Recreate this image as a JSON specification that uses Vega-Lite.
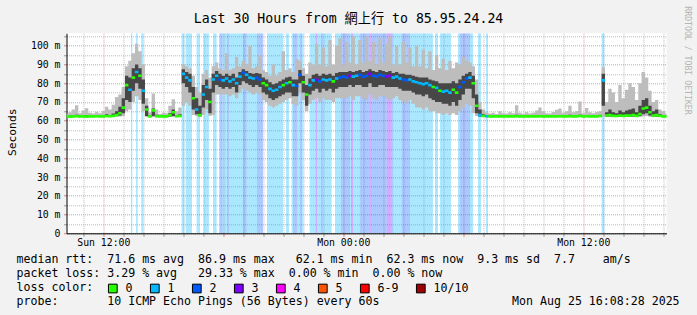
{
"$schema": "https://vega.github.io/schema/vega-lite/v6.json",
"width": 600, "height": 200,
"autosize": {"type": "none"},
"padding": {"left": 66.5, "top": 33.3, "right": 30.5, "bottom": 81.7},
"background": "#f2f2f2",
"title": {"text": "Last 30 Hours from 網上行 to 85.95.24.24", "font": "DejaVu Sans Mono, Noto Sans CJK TC", "fontSize": 13.2, "fontWeight": "normal", "color": "#000000", "anchor": "middle", "frame": "group", "dx": -18, "offset": -30.3, "baseline": "alphabetic"},
"datasets": {
"series": [
{"t":"2025-08-24T10:10","med":62.3,"lo":61.9,"q1":62.1,"q3":62.7,"hi":63.5,"loss":"0"},
{"t":"2025-08-24T10:20","med":62.2,"lo":61.9,"q1":62.0,"q3":62.6,"hi":64.5,"loss":"0"},
{"t":"2025-08-24T10:30","med":62.3,"lo":61.9,"q1":62.1,"q3":62.8,"hi":66.0,"loss":"0"},
{"t":"2025-08-24T10:40","med":62.4,"lo":62.0,"q1":62.2,"q3":63.2,"hi":68.3,"loss":"0"},
{"t":"2025-08-24T10:50","med":62.3,"lo":61.9,"q1":62.1,"q3":62.7,"hi":64.0,"loss":"0"},
{"t":"2025-08-24T11:00","med":62.3,"lo":61.9,"q1":62.1,"q3":62.8,"hi":65.5,"loss":"0"},
{"t":"2025-08-24T11:10","med":62.2,"lo":61.8,"q1":62.0,"q3":62.9,"hi":66.6,"loss":"0"},
{"t":"2025-08-24T11:20","med":62.3,"lo":61.9,"q1":62.1,"q3":62.7,"hi":64.2,"loss":"0"},
{"t":"2025-08-24T11:30","med":62.3,"lo":61.9,"q1":62.1,"q3":62.8,"hi":63.8,"loss":"0"},
{"t":"2025-08-24T11:40","med":62.4,"lo":62.0,"q1":62.2,"q3":63.0,"hi":64.8,"loss":"0"},
{"t":"2025-08-24T11:50","med":62.3,"lo":61.9,"q1":62.1,"q3":62.7,"hi":64.0,"loss":"0"},
{"t":"2025-08-24T12:00","med":62.3,"lo":61.9,"q1":62.1,"q3":62.9,"hi":65.2,"loss":"0"},
{"t":"2025-08-24T12:10","med":62.5,"lo":62.0,"q1":62.2,"q3":63.5,"hi":67.5,"loss":"0"},
{"t":"2025-08-24T12:20","med":62.4,"lo":61.9,"q1":62.1,"q3":63.0,"hi":66.0,"loss":"0"},
{"t":"2025-08-24T12:30","med":62.6,"lo":62.0,"q1":62.3,"q3":63.8,"hi":68.5,"loss":"0"},
{"t":"2025-08-24T12:40","med":63.0,"lo":62.1,"q1":62.5,"q3":65.0,"hi":72.7,"loss":"0"},
{"t":"2025-08-24T12:50","med":64.0,"lo":62.2,"q1":62.8,"q3":67.5,"hi":74.0,"loss":"0"},
{"t":"2025-08-24T13:00","med":67.0,"lo":62.5,"q1":64.0,"q3":72.0,"hi":78.0,"loss":"0"},
{"t":"2025-08-24T13:10","med":79.0,"lo":65.0,"q1":71.0,"q3":84.0,"hi":89.0,"loss":"0"},
{"t":"2025-08-24T13:20","med":76.5,"lo":66.0,"q1":70.0,"q3":83.0,"hi":92.0,"loss":"1"},
{"t":"2025-08-24T13:30","med":83.0,"lo":70.0,"q1":76.0,"q3":88.0,"hi":96.0,"loss":"0"},
{"t":"2025-08-24T13:40","med":86.0,"lo":73.0,"q1":80.0,"q3":90.0,"hi":101.0,"loss":"1"},
{"t":"2025-08-24T13:50","med":84.0,"lo":71.0,"q1":77.0,"q3":88.0,"hi":97.0,"loss":"0"},
{"t":"2025-08-24T14:00","med":76.0,"lo":65.0,"q1":69.0,"q3":82.0,"hi":90.0,"loss":"1"},
{"t":"2025-08-24T14:10","med":66.0,"lo":62.0,"q1":62.5,"q3":68.0,"hi":72.0,"loss":"0"},
{"t":"2025-08-24T14:20","med":62.3,"lo":61.9,"q1":62.1,"q3":62.8,"hi":64.5,"loss":"0"},
{"t":"2025-08-24T14:30","med":65.5,"lo":62.0,"q1":62.5,"q3":66.5,"hi":74.5,"loss":"0"},
{"t":"2025-08-24T14:40","med":62.4,"lo":61.9,"q1":62.1,"q3":63.2,"hi":66.0,"loss":"0"},
{"t":"2025-08-24T14:50","med":62.3,"lo":61.9,"q1":62.1,"q3":62.7,"hi":63.6,"loss":"0"},
{"t":"2025-08-24T15:00","med":62.3,"lo":61.9,"q1":62.1,"q3":62.8,"hi":64.2,"loss":"0"},
{"t":"2025-08-24T15:10","med":62.3,"lo":61.9,"q1":62.1,"q3":62.8,"hi":64.0,"loss":"0"},
{"t":"2025-08-24T15:20","med":63.0,"lo":62.0,"q1":62.2,"q3":64.0,"hi":68.0,"loss":"0"},
{"t":"2025-08-24T15:30","med":64.5,"lo":62.0,"q1":62.5,"q3":66.0,"hi":71.5,"loss":"0"},
{"t":"2025-08-24T15:40","med":62.4,"lo":61.9,"q1":62.1,"q3":63.0,"hi":65.0,"loss":"0"},
{"t":"2025-08-24T15:50","med":62.5,"lo":62.0,"q1":62.2,"q3":63.5,"hi":67.0,"loss":"0"},
{"t":"2025-08-24T16:00","med":85.0,"lo":68.0,"q1":80.0,"q3":87.5,"hi":90.0,"loss":"1"},
{"t":"2025-08-24T16:10","med":83.0,"lo":70.0,"q1":78.0,"q3":86.0,"hi":89.0,"loss":"1"},
{"t":"2025-08-24T16:20","med":81.5,"lo":68.0,"q1":75.0,"q3":85.0,"hi":88.0,"loss":"1"},
{"t":"2025-08-24T16:30","med":72.0,"lo":63.0,"q1":66.0,"q3":78.0,"hi":84.0,"loss":"0"},
{"t":"2025-08-24T16:40","med":66.0,"lo":62.5,"q1":63.5,"q3":72.0,"hi":78.0,"loss":"1"},
{"t":"2025-08-24T16:50","med":63.0,"lo":62.0,"q1":62.4,"q3":68.0,"hi":75.0,"loss":"0"},
{"t":"2025-08-24T17:00","med":74.0,"lo":63.0,"q1":67.0,"q3":79.0,"hi":85.0,"loss":"1"},
{"t":"2025-08-24T17:10","med":78.0,"lo":66.0,"q1":71.0,"q3":82.0,"hi":87.0,"loss":"1"},
{"t":"2025-08-24T17:20","med":70.0,"lo":62.5,"q1":64.0,"q3":77.0,"hi":83.0,"loss":"0"},
{"t":"2025-08-24T17:30","med":82.0,"lo":63.0,"q1":75.0,"q3":85.0,"hi":89.0,"loss":"1"},
{"t":"2025-08-24T17:40","med":84.0,"lo":74.0,"q1":79.0,"q3":86.5,"hi":91.0,"loss":"1"},
{"t":"2025-08-24T17:50","med":82.0,"lo":74.0,"q1":78.0,"q3":85.0,"hi":88.0,"loss":"2"},
{"t":"2025-08-24T18:00","med":81.5,"lo":74.0,"q1":77.0,"q3":84.0,"hi":87.0,"loss":"1"},
{"t":"2025-08-24T18:10","med":82.5,"lo":74.0,"q1":78.0,"q3":85.0,"hi":96.0,"loss":"1"},
{"t":"2025-08-24T18:20","med":81.0,"lo":73.0,"q1":77.0,"q3":84.0,"hi":87.0,"loss":"1"},
{"t":"2025-08-24T18:30","med":82.0,"lo":74.0,"q1":78.0,"q3":85.0,"hi":88.0,"loss":"1"},
{"t":"2025-08-24T18:40","med":80.0,"lo":72.0,"q1":75.0,"q3":83.0,"hi":94.0,"loss":"1"},
{"t":"2025-08-24T18:50","med":83.5,"lo":75.0,"q1":79.0,"q3":86.0,"hi":89.0,"loss":"1"},
{"t":"2025-08-24T19:00","med":85.5,"lo":77.0,"q1":81.0,"q3":87.5,"hi":92.0,"loss":"2"},
{"t":"2025-08-24T19:10","med":84.5,"lo":76.0,"q1":80.0,"q3":86.5,"hi":90.0,"loss":"1"},
{"t":"2025-08-24T19:20","med":83.0,"lo":75.0,"q1":79.0,"q3":85.5,"hi":100.0,"loss":"1"},
{"t":"2025-08-24T19:30","med":82.5,"lo":74.0,"q1":78.0,"q3":85.0,"hi":88.0,"loss":"1"},
{"t":"2025-08-24T19:40","med":83.0,"lo":75.0,"q1":79.0,"q3":85.5,"hi":89.0,"loss":"2"},
{"t":"2025-08-24T19:50","med":82.0,"lo":74.0,"q1":78.0,"q3":85.0,"hi":95.0,"loss":"2"},
{"t":"2025-08-24T20:00","med":80.0,"lo":71.0,"q1":75.0,"q3":83.0,"hi":87.0,"loss":"0"},
{"t":"2025-08-24T20:10","med":79.0,"lo":70.0,"q1":74.0,"q3":82.0,"hi":86.0,"loss":"0"},
{"t":"2025-08-24T20:20","med":77.0,"lo":68.0,"q1":72.0,"q3":80.5,"hi":84.0,"loss":"1"},
{"t":"2025-08-24T20:30","med":76.0,"lo":67.0,"q1":71.0,"q3":79.5,"hi":90.0,"loss":"1"},
{"t":"2025-08-24T20:40","med":76.5,"lo":68.0,"q1":72.0,"q3":80.0,"hi":84.0,"loss":"1"},
{"t":"2025-08-24T20:50","med":78.0,"lo":69.0,"q1":73.0,"q3":81.0,"hi":86.0,"loss":"1"},
{"t":"2025-08-24T21:00","med":79.0,"lo":70.0,"q1":74.0,"q3":82.0,"hi":97.0,"loss":"0"},
{"t":"2025-08-24T21:10","med":80.0,"lo":71.0,"q1":75.0,"q3":83.0,"hi":87.0,"loss":"1"},
{"t":"2025-08-24T21:20","med":80.5,"lo":72.0,"q1":75.0,"q3":83.5,"hi":88.0,"loss":"0"},
{"t":"2025-08-24T21:30","med":79.0,"lo":69.0,"q1":73.0,"q3":82.0,"hi":86.0,"loss":"1"},
{"t":"2025-08-24T21:40","med":78.5,"lo":68.0,"q1":73.0,"q3":82.0,"hi":93.0,"loss":"2"},
{"t":"2025-08-24T21:50","med":84.5,"lo":75.0,"q1":80.0,"q3":87.0,"hi":92.0,"loss":"2"},
{"t":"2025-08-24T22:00","med":80.5,"lo":71.0,"q1":75.0,"q3":84.0,"hi":88.0,"loss":"0"},
{"t":"2025-08-24T22:10","med":74.0,"lo":65.0,"q1":68.0,"q3":79.0,"hi":85.0,"loss":"0"},
{"t":"2025-08-24T22:20","med":79.0,"lo":69.0,"q1":74.0,"q3":82.5,"hi":91.0,"loss":"1"},
{"t":"2025-08-24T22:30","med":81.5,"lo":71.0,"q1":76.0,"q3":84.5,"hi":90.0,"loss":"1"},
{"t":"2025-08-24T22:40","med":82.0,"lo":72.0,"q1":77.0,"q3":85.0,"hi":101.0,"loss":"3"},
{"t":"2025-08-24T22:50","med":81.0,"lo":70.0,"q1":75.0,"q3":84.0,"hi":90.0,"loss":"2"},
{"t":"2025-08-24T23:00","med":82.0,"lo":72.0,"q1":77.0,"q3":85.0,"hi":99.0,"loss":"1"},
{"t":"2025-08-24T23:10","med":81.5,"lo":71.0,"q1":76.0,"q3":84.5,"hi":89.0,"loss":"1"},
{"t":"2025-08-24T23:20","med":82.0,"lo":71.0,"q1":77.0,"q3":85.0,"hi":103.0,"loss":"1"},
{"t":"2025-08-24T23:30","med":81.0,"lo":70.0,"q1":75.0,"q3":84.0,"hi":90.0,"loss":"0"},
{"t":"2025-08-24T23:40","med":82.5,"lo":72.0,"q1":77.0,"q3":85.5,"hi":100.0,"loss":"1"},
{"t":"2025-08-24T23:50","med":83.0,"lo":72.0,"q1":78.0,"q3":86.0,"hi":104.0,"loss":"2"},
{"t":"2025-08-25T00:00","med":83.5,"lo":72.0,"q1":78.0,"q3":86.0,"hi":90.0,"loss":"2"},
{"t":"2025-08-25T00:10","med":83.0,"lo":72.0,"q1":78.0,"q3":86.0,"hi":102.0,"loss":"2"},
{"t":"2025-08-25T00:20","med":84.0,"lo":73.0,"q1":79.0,"q3":86.5,"hi":91.0,"loss":"3"},
{"t":"2025-08-25T00:30","med":83.5,"lo":71.0,"q1":78.0,"q3":86.0,"hi":105.0,"loss":"1"},
{"t":"2025-08-25T00:40","med":84.0,"lo":73.0,"q1":79.0,"q3":86.5,"hi":90.0,"loss":"1"},
{"t":"2025-08-25T00:50","med":84.5,"lo":73.0,"q1":79.0,"q3":87.0,"hi":103.0,"loss":"2"},
{"t":"2025-08-25T01:00","med":83.5,"lo":72.0,"q1":78.0,"q3":86.0,"hi":91.0,"loss":"2"},
{"t":"2025-08-25T01:10","med":84.0,"lo":71.0,"q1":78.0,"q3":86.5,"hi":105.0,"loss":"2"},
{"t":"2025-08-25T01:20","med":85.0,"lo":74.0,"q1":80.0,"q3":87.5,"hi":92.0,"loss":"3"},
{"t":"2025-08-25T01:30","med":84.0,"lo":72.0,"q1":78.0,"q3":86.5,"hi":102.0,"loss":"2"},
{"t":"2025-08-25T01:40","med":83.5,"lo":71.0,"q1":78.0,"q3":86.0,"hi":90.0,"loss":"2"},
{"t":"2025-08-25T01:50","med":84.5,"lo":73.0,"q1":79.0,"q3":87.0,"hi":104.0,"loss":"2"},
{"t":"2025-08-25T02:00","med":84.0,"lo":73.0,"q1":79.0,"q3":86.5,"hi":91.0,"loss":"2"},
{"t":"2025-08-25T02:10","med":83.5,"lo":72.0,"q1":78.0,"q3":86.0,"hi":101.0,"loss":"3"},
{"t":"2025-08-25T02:20","med":84.0,"lo":71.0,"q1":78.0,"q3":86.5,"hi":105.0,"loss":"3"},
{"t":"2025-08-25T02:30","med":83.0,"lo":72.0,"q1":78.0,"q3":85.5,"hi":90.0,"loss":"1"},
{"t":"2025-08-25T02:40","med":83.5,"lo":73.0,"q1":78.0,"q3":86.0,"hi":100.0,"loss":"1"},
{"t":"2025-08-25T02:50","med":82.5,"lo":71.0,"q1":77.0,"q3":85.0,"hi":90.0,"loss":"1"},
{"t":"2025-08-25T03:00","med":82.0,"lo":70.0,"q1":76.0,"q3":85.0,"hi":102.0,"loss":"2"},
{"t":"2025-08-25T03:10","med":81.5,"lo":69.0,"q1":76.0,"q3":84.5,"hi":91.0,"loss":"2"},
{"t":"2025-08-25T03:20","med":82.0,"lo":71.0,"q1":76.0,"q3":84.5,"hi":99.0,"loss":"1"},
{"t":"2025-08-25T03:30","med":81.0,"lo":69.0,"q1":75.0,"q3":84.0,"hi":89.0,"loss":"1"},
{"t":"2025-08-25T03:40","med":80.5,"lo":67.0,"q1":74.0,"q3":83.5,"hi":100.0,"loss":"1"},
{"t":"2025-08-25T03:50","med":80.0,"lo":67.0,"q1":74.0,"q3":83.0,"hi":89.0,"loss":"1"},
{"t":"2025-08-25T04:00","med":79.5,"lo":66.0,"q1":73.0,"q3":83.0,"hi":98.0,"loss":"1"},
{"t":"2025-08-25T04:10","med":80.0,"lo":67.0,"q1":74.0,"q3":83.0,"hi":88.0,"loss":"1"},
{"t":"2025-08-25T04:20","med":79.0,"lo":65.0,"q1":72.0,"q3":82.0,"hi":97.0,"loss":"1"},
{"t":"2025-08-25T04:30","med":78.0,"lo":65.0,"q1":71.0,"q3":81.5,"hi":87.0,"loss":"0"},
{"t":"2025-08-25T04:40","med":77.5,"lo":64.0,"q1":70.0,"q3":81.0,"hi":95.0,"loss":"1"},
{"t":"2025-08-25T04:50","med":76.0,"lo":64.0,"q1":70.0,"q3":80.0,"hi":88.0,"loss":"0"},
{"t":"2025-08-25T05:00","med":75.5,"lo":63.0,"q1":69.0,"q3":80.0,"hi":93.0,"loss":"1"},
{"t":"2025-08-25T05:10","med":76.0,"lo":64.0,"q1":69.0,"q3":80.0,"hi":87.0,"loss":"1"},
{"t":"2025-08-25T05:20","med":75.0,"lo":63.0,"q1":68.0,"q3":80.0,"hi":92.0,"loss":"1"},
{"t":"2025-08-25T05:30","med":76.5,"lo":64.0,"q1":70.0,"q3":81.0,"hi":88.0,"loss":"0"},
{"t":"2025-08-25T05:40","med":75.0,"lo":63.0,"q1":68.0,"q3":80.0,"hi":91.0,"loss":"0"},
{"t":"2025-08-25T05:50","med":78.0,"lo":65.0,"q1":71.0,"q3":82.0,"hi":90.0,"loss":"2"},
{"t":"2025-08-25T06:00","med":80.5,"lo":67.0,"q1":74.0,"q3":84.0,"hi":94.0,"loss":"2"},
{"t":"2025-08-25T06:10","med":82.5,"lo":69.0,"q1":77.0,"q3":85.0,"hi":92.0,"loss":"2"},
{"t":"2025-08-25T06:20","med":83.0,"lo":68.0,"q1":77.0,"q3":86.0,"hi":91.0,"loss":"1"},
{"t":"2025-08-25T06:30","med":80.0,"lo":64.0,"q1":72.0,"q3":84.0,"hi":89.0,"loss":"0"},
{"t":"2025-08-25T06:40","med":68.0,"lo":62.5,"q1":64.0,"q3":74.0,"hi":82.0,"loss":"0"},
{"t":"2025-08-25T06:50","med":63.0,"lo":62.0,"q1":62.3,"q3":66.0,"hi":70.0,"loss":"1"},
{"t":"2025-08-25T07:00","med":62.5,"lo":62.0,"q1":62.2,"q3":63.5,"hi":66.0,"loss":"0"},
{"t":"2025-08-25T07:10","med":62.4,"lo":61.9,"q1":62.1,"q3":63.0,"hi":64.5,"loss":"1"},
{"t":"2025-08-25T07:20","med":62.3,"lo":61.9,"q1":62.1,"q3":62.7,"hi":63.8,"loss":"0"},
{"t":"2025-08-25T07:30","med":62.3,"lo":61.9,"q1":62.1,"q3":62.7,"hi":64.2,"loss":"0"},
{"t":"2025-08-25T07:40","med":62.3,"lo":61.9,"q1":62.1,"q3":62.7,"hi":63.6,"loss":"0"},
{"t":"2025-08-25T07:50","med":62.3,"lo":61.9,"q1":62.1,"q3":62.8,"hi":65.0,"loss":"0"},
{"t":"2025-08-25T08:00","med":62.3,"lo":61.9,"q1":62.1,"q3":62.7,"hi":64.0,"loss":"0"},
{"t":"2025-08-25T08:10","med":62.3,"lo":61.9,"q1":62.1,"q3":62.7,"hi":63.8,"loss":"0"},
{"t":"2025-08-25T08:20","med":62.3,"lo":61.9,"q1":62.1,"q3":62.8,"hi":64.5,"loss":"0"},
{"t":"2025-08-25T08:30","med":62.3,"lo":61.9,"q1":62.1,"q3":62.7,"hi":64.0,"loss":"0"},
{"t":"2025-08-25T08:40","med":62.4,"lo":61.9,"q1":62.1,"q3":63.2,"hi":68.3,"loss":"0"},
{"t":"2025-08-25T08:50","med":62.3,"lo":61.9,"q1":62.1,"q3":62.7,"hi":64.2,"loss":"0"},
{"t":"2025-08-25T09:00","med":62.3,"lo":61.9,"q1":62.1,"q3":62.7,"hi":63.7,"loss":"0"},
{"t":"2025-08-25T09:10","med":62.3,"lo":61.9,"q1":62.1,"q3":62.8,"hi":64.5,"loss":"0"},
{"t":"2025-08-25T09:20","med":62.3,"lo":61.9,"q1":62.1,"q3":62.7,"hi":63.9,"loss":"0"},
{"t":"2025-08-25T09:30","med":62.3,"lo":61.9,"q1":62.1,"q3":62.7,"hi":64.3,"loss":"0"},
{"t":"2025-08-25T09:40","med":62.3,"lo":61.9,"q1":62.1,"q3":62.9,"hi":65.5,"loss":"0"},
{"t":"2025-08-25T09:50","med":62.4,"lo":61.9,"q1":62.1,"q3":63.0,"hi":67.0,"loss":"0"},
{"t":"2025-08-25T10:00","med":62.3,"lo":61.9,"q1":62.1,"q3":62.8,"hi":65.0,"loss":"0"},
{"t":"2025-08-25T10:10","med":62.3,"lo":61.9,"q1":62.1,"q3":62.7,"hi":64.0,"loss":"0"},
{"t":"2025-08-25T10:20","med":62.3,"lo":61.9,"q1":62.1,"q3":62.7,"hi":63.8,"loss":"0"},
{"t":"2025-08-25T10:30","med":62.3,"lo":61.9,"q1":62.1,"q3":62.8,"hi":64.6,"loss":"0"},
{"t":"2025-08-25T10:40","med":62.3,"lo":61.9,"q1":62.1,"q3":62.9,"hi":65.8,"loss":"0"},
{"t":"2025-08-25T10:50","med":62.4,"lo":61.9,"q1":62.1,"q3":63.0,"hi":66.5,"loss":"0"},
{"t":"2025-08-25T11:00","med":62.3,"lo":61.9,"q1":62.1,"q3":62.7,"hi":64.2,"loss":"0"},
{"t":"2025-08-25T11:10","med":62.3,"lo":61.9,"q1":62.1,"q3":62.8,"hi":65.0,"loss":"0"},
{"t":"2025-08-25T11:20","med":62.4,"lo":61.9,"q1":62.1,"q3":63.2,"hi":68.0,"loss":"0"},
{"t":"2025-08-25T11:30","med":62.3,"lo":61.9,"q1":62.1,"q3":62.8,"hi":64.5,"loss":"0"},
{"t":"2025-08-25T11:40","med":62.3,"lo":61.9,"q1":62.1,"q3":62.8,"hi":65.2,"loss":"0"},
{"t":"2025-08-25T11:50","med":62.5,"lo":62.0,"q1":62.2,"q3":63.2,"hi":70.2,"loss":"0"},
{"t":"2025-08-25T12:00","med":62.3,"lo":61.9,"q1":62.1,"q3":62.7,"hi":64.0,"loss":"0"},
{"t":"2025-08-25T12:10","med":62.4,"lo":61.9,"q1":62.1,"q3":63.0,"hi":66.8,"loss":"0"},
{"t":"2025-08-25T12:20","med":62.3,"lo":61.9,"q1":62.1,"q3":62.8,"hi":64.5,"loss":"0"},
{"t":"2025-08-25T12:30","med":62.3,"lo":61.9,"q1":62.1,"q3":62.7,"hi":64.0,"loss":"0"},
{"t":"2025-08-25T12:40","med":62.3,"lo":61.9,"q1":62.1,"q3":62.8,"hi":64.6,"loss":"0"},
{"t":"2025-08-25T12:50","med":62.5,"lo":61.9,"q1":62.1,"q3":63.0,"hi":65.0,"loss":"0"},
{"t":"2025-08-25T13:00","med":81.5,"lo":62.3,"q1":68.0,"q3":85.0,"hi":88.5,"loss":"1"},
{"t":"2025-08-25T13:10","med":62.8,"lo":62.0,"q1":62.2,"q3":64.5,"hi":70.0,"loss":"0"},
{"t":"2025-08-25T13:20","med":63.0,"lo":62.0,"q1":62.3,"q3":66.0,"hi":77.0,"loss":"0"},
{"t":"2025-08-25T13:30","med":62.6,"lo":62.0,"q1":62.2,"q3":64.5,"hi":75.0,"loss":"0"},
{"t":"2025-08-25T13:40","med":62.5,"lo":62.0,"q1":62.2,"q3":64.0,"hi":70.0,"loss":"0"},
{"t":"2025-08-25T13:50","med":62.8,"lo":62.0,"q1":62.3,"q3":65.5,"hi":79.0,"loss":"0"},
{"t":"2025-08-25T14:00","med":62.6,"lo":62.0,"q1":62.2,"q3":64.5,"hi":72.0,"loss":"0"},
{"t":"2025-08-25T14:10","med":62.7,"lo":62.0,"q1":62.2,"q3":65.5,"hi":76.5,"loss":"0"},
{"t":"2025-08-25T14:20","med":62.8,"lo":62.0,"q1":62.3,"q3":66.0,"hi":80.0,"loss":"0"},
{"t":"2025-08-25T14:30","med":63.0,"lo":62.0,"q1":62.3,"q3":66.5,"hi":78.0,"loss":"0"},
{"t":"2025-08-25T14:40","med":62.6,"lo":62.0,"q1":62.2,"q3":64.5,"hi":71.0,"loss":"0"},
{"t":"2025-08-25T14:50","med":63.5,"lo":62.0,"q1":62.5,"q3":68.0,"hi":80.0,"loss":"0"},
{"t":"2025-08-25T15:00","med":66.5,"lo":62.3,"q1":63.5,"q3":71.0,"hi":86.0,"loss":"0"},
{"t":"2025-08-25T15:10","med":67.0,"lo":62.5,"q1":64.0,"q3":72.0,"hi":83.0,"loss":"0"},
{"t":"2025-08-25T15:20","med":64.5,"lo":62.1,"q1":62.8,"q3":68.0,"hi":76.0,"loss":"0"},
{"t":"2025-08-25T15:30","med":62.8,"lo":62.0,"q1":62.3,"q3":65.0,"hi":70.0,"loss":"0"},
{"t":"2025-08-25T15:40","med":63.0,"lo":62.0,"q1":62.3,"q3":66.0,"hi":71.0,"loss":"0"},
{"t":"2025-08-25T15:50","med":62.5,"lo":62.0,"q1":62.2,"q3":63.5,"hi":66.0,"loss":"0"},
{"t":"2025-08-25T16:00","med":62.3,"lo":61.9,"q1":62.1,"q3":63.0,"hi":65.0,"loss":"0"},
{"t":"2025-08-25T16:10","med":62.3,"lo":61.9,"q1":62.1,"q3":62.8,"hi":64.0,"loss":"0"}
],
"lossbars": [
{"start":"2025-08-24T13:23","end":"2025-08-24T13:27","loss":"1"},
{"start":"2025-08-24T13:38","end":"2025-08-24T13:43","loss":"1"},
{"start":"2025-08-24T13:54","end":"2025-08-24T14:00","loss":"1"},
{"start":"2025-08-24T15:55","end":"2025-08-24T16:03","loss":"1"},
{"start":"2025-08-24T16:07","end":"2025-08-24T16:26","loss":"1"},
{"start":"2025-08-24T16:40","end":"2025-08-24T16:50","loss":"1"},
{"start":"2025-08-24T17:01","end":"2025-08-24T17:17","loss":"1"},
{"start":"2025-08-24T17:29","end":"2025-08-24T17:40","loss":"1"},
{"start":"2025-08-24T17:47","end":"2025-08-24T17:50","loss":"1"},
{"start":"2025-08-24T17:50","end":"2025-08-24T17:58","loss":"2"},
{"start":"2025-08-24T17:58","end":"2025-08-24T18:11","loss":"1"},
{"start":"2025-08-24T18:11","end":"2025-08-24T18:17","loss":"2"},
{"start":"2025-08-24T18:17","end":"2025-08-24T18:59","loss":"1"},
{"start":"2025-08-24T18:59","end":"2025-08-24T19:10","loss":"2"},
{"start":"2025-08-24T19:10","end":"2025-08-24T19:41","loss":"1"},
{"start":"2025-08-24T19:41","end":"2025-08-24T19:59","loss":"2"},
{"start":"2025-08-24T20:11","end":"2025-08-24T20:59","loss":"1"},
{"start":"2025-08-24T21:08","end":"2025-08-24T21:17","loss":"1"},
{"start":"2025-08-24T21:25","end":"2025-08-24T21:29","loss":"1"},
{"start":"2025-08-24T21:29","end":"2025-08-24T21:41","loss":"2"},
{"start":"2025-08-24T21:41","end":"2025-08-24T21:50","loss":"1"},
{"start":"2025-08-24T21:50","end":"2025-08-24T21:56","loss":"2"},
{"start":"2025-08-24T21:56","end":"2025-08-24T22:00","loss":"1"},
{"start":"2025-08-24T22:19","end":"2025-08-24T22:37","loss":"1"},
{"start":"2025-08-24T22:37","end":"2025-08-24T22:41","loss":"3"},
{"start":"2025-08-24T22:41","end":"2025-08-24T22:53","loss":"1"},
{"start":"2025-08-24T22:53","end":"2025-08-24T22:59","loss":"2"},
{"start":"2025-08-24T22:59","end":"2025-08-24T23:25","loss":"1"},
{"start":"2025-08-24T23:35","end":"2025-08-24T23:53","loss":"1"},
{"start":"2025-08-24T23:53","end":"2025-08-25T00:20","loss":"2"},
{"start":"2025-08-25T00:20","end":"2025-08-25T00:23","loss":"1"},
{"start":"2025-08-25T00:23","end":"2025-08-25T00:29","loss":"3"},
{"start":"2025-08-25T00:29","end":"2025-08-25T00:50","loss":"1"},
{"start":"2025-08-25T00:50","end":"2025-08-25T01:19","loss":"2"},
{"start":"2025-08-25T01:19","end":"2025-08-25T01:23","loss":"3"},
{"start":"2025-08-25T01:23","end":"2025-08-25T02:10","loss":"2"},
{"start":"2025-08-25T02:10","end":"2025-08-25T02:23","loss":"3"},
{"start":"2025-08-25T02:23","end":"2025-08-25T02:30","loss":"2"},
{"start":"2025-08-25T02:30","end":"2025-08-25T02:55","loss":"1"},
{"start":"2025-08-25T02:55","end":"2025-08-25T03:20","loss":"2"},
{"start":"2025-08-25T03:20","end":"2025-08-25T04:29","loss":"1"},
{"start":"2025-08-25T04:35","end":"2025-08-25T04:44","loss":"1"},
{"start":"2025-08-25T04:50","end":"2025-08-25T05:23","loss":"1"},
{"start":"2025-08-25T05:44","end":"2025-08-25T05:50","loss":"1"},
{"start":"2025-08-25T05:50","end":"2025-08-25T06:20","loss":"2"},
{"start":"2025-08-25T06:20","end":"2025-08-25T06:29","loss":"1"},
{"start":"2025-08-25T06:44","end":"2025-08-25T06:53","loss":"1"},
{"start":"2025-08-25T07:08","end":"2025-08-25T07:14","loss":"1"},
{"start":"2025-08-25T12:55","end":"2025-08-25T13:03","loss":"1"}
]
},
"layer": [
{
"data": {"name": "lossbars"},
"mark": {"type": "rect", "opacity": 0.33, "clip": true},
"encoding": {
"x": {"field": "start", "type": "temporal",
 "scale": {"domain": [{"year":2025,"month":8,"date":24,"hours":10,"minutes":9,"seconds":36},{"year":2025,"month":8,"date":25,"hours":16,"minutes":9,"seconds":36}]},
 "axis": {
  "tickCount": 30,
  "labelExpr": "(timeFormat(datum.value, '%H:%M') == '12:00' || timeFormat(datum.value, '%H:%M') == '00:00') ? timeFormat(datum.value, '%a %H:%M') : ''",
  "labelFont": "DejaVu Sans Mono", "labelFontSize": 9.8, "labelColor": "#000000",
  "labelFlush": false, "labelOverlap": false, "labelBaseline": "alphabetic", "labelPadding": 9.4, "labelAlign": "center",
  "tickSize": 3,
  "tickColor": {"condition": {"test": "indexof(['00','06','12','18'], timeFormat(datum.value, '%H')) >= 0", "value": "#d88080"}, "value": "#999999"},
  "gridColor": {"condition": {"test": "indexof(['00','06','12','18'], timeFormat(datum.value, '%H')) >= 0", "value": "#e09a9a"}, "value": "#bababa"},
  "gridDash": [1, 1], "gridOpacity": 1, "gridWidth": 1,
  "domainColor": "#000000", "domainWidth": 1,
  "title": null
 }},
"x2": {"field": "end"},
"fill": {"field": "loss", "type": "nominal",
 "scale": {"domain": ["1","2","3"], "range": ["#00b8ff","#0059ff","#7e00ff"]},
 "legend": null}
}
},
{
"data": {"name": "series"},
"mark": {"type": "area", "interpolate": "step", "color": "#bdbdbd", "opacity": 1, "clip": true},
"encoding": {
"x": {"field": "t", "type": "temporal",
 "scale": {"domain": [{"year":2025,"month":8,"date":24,"hours":10,"minutes":9,"seconds":36},{"year":2025,"month":8,"date":25,"hours":16,"minutes":9,"seconds":36}]}},
"y": {"field": "hi", "type": "quantitative",
 "scale": {"domain": [0, 106.6], "nice": false, "zero": true},
 "axis": {
  "orient": "left",
  "values": [0,5,10,15,20,25,30,35,40,45,50,55,60,65,70,75,80,85,90,95,100,105],
  "labelExpr": "datum.value % 10 == 0 ? (datum.value == 0 ? '0\u00a0\u00a0' : datum.value + ' m') : ''",
  "labelFont": "DejaVu Sans Mono", "labelFontSize": 9.8, "labelColor": "#000000",
  "labelPadding": 3.5, "labelAlign": "right", "labelBaseline": "middle", "labelOverlap": false, "labelFlush": false,
  "tickSize": 3,
  "tickColor": {"condition": {"test": "datum.value % 10 == 0", "value": "#d88080"}, "value": "#999999"},
  "gridColor": {"condition": {"test": "datum.value % 10 == 0", "value": "#e09a9a"}, "value": "#bababa"},
  "gridDash": [1, 1], "gridOpacity": 1, "gridWidth": 1,
  "domainColor": "#000000", "domainWidth": 1,
  "title": "Seconds", "titleFont": "DejaVu Sans Mono", "titleFontSize": 11.3, "titleFontWeight": "normal", "titleColor": "#000000",
  "titleX": -51.5, "titleY": 98.5, "titleAngle": 270, "titleAlign": "center", "titleBaseline": "alphabetic"
 }},
"y2": {"field": "lo"}
}
},
{
"data": {"name": "series"},
"mark": {"type": "area", "interpolate": "step", "color": "#474747", "opacity": 1, "clip": true},
"encoding": {
"x": {"field": "t", "type": "temporal",
 "scale": {"domain": [{"year":2025,"month":8,"date":24,"hours":10,"minutes":9,"seconds":36},{"year":2025,"month":8,"date":25,"hours":16,"minutes":9,"seconds":36}]}},
"y": {"field": "q3", "type": "quantitative", "scale": {"domain": [0, 106.6], "nice": false, "zero": true},
 "axis": {"orient": "left", "labels": false, "ticks": false, "domain": false, "grid": false,
  "title": ["median rtt:\u00a0\u00a071.6 ms avg\u00a0\u00a086.9 ms max\u00a0\u00a0\u00a062.1 ms min\u00a0\u00a062.3 ms now\u00a0\u00a09.3 ms sd\u00a0\u00a07.7\u00a0\u00a0\u00a0\u00a0am/s", "packet loss: 3.29 % avg\u00a0\u00a0\u00a029.33 % max\u00a0\u00a00.00 % min\u00a0\u00a00.00 % now", "loss color:", "probe:\u00a0\u00a0\u00a0\u00a0\u00a0\u00a0\u00a010 ICMP Echo Pings (56 Bytes) every 60s\u00a0\u00a0\u00a0\u00a0\u00a0\u00a0\u00a0\u00a0\u00a0\u00a0\u00a0\u00a0\u00a0\u00a0\u00a0\u00a0\u00a0\u00a0\u00a0Mon Aug 25 16:08:28 2025"],
  "titleFont": "DejaVu Sans Mono", "titleFontSize": 11.6, "titleFontWeight": "normal", "titleColor": "#000000",
  "titleAngle": 0, "titleX": -50.5, "titleY": 229.4, "titleAlign": "left", "titleBaseline": "alphabetic", "titleLineHeight": 13.9}},
"y2": {"field": "q1"}
}
},
{
"data": {"name": "series"},
"mark": {"type": "tick", "orient": "horizontal", "thickness": 2.6, "size": 3.6, "opacity": 1, "clip": true},
"encoding": {
"x": {"field": "t", "type": "temporal",
 "scale": {"domain": [{"year":2025,"month":8,"date":24,"hours":10,"minutes":9,"seconds":36},{"year":2025,"month":8,"date":25,"hours":16,"minutes":9,"seconds":36}]}},
"y": {"field": "med", "type": "quantitative", "scale": {"domain": [0, 106.6], "nice": false, "zero": true},
 "axis": {"orient": "right", "labels": false, "ticks": false, "domain": false, "grid": false,
  "title": "RRDTOOL / TOBI OETIKER", "titleFont": "DejaVu Sans Mono", "titleFontSize": 8.2, "titleFontWeight": "normal", "titleColor": "#b4b4b4",
  "titleAngle": 90, "titleX": 17.5, "titleY": 26.7, "titleAlign": "center", "titleBaseline": "alphabetic"}},
"color": {"field": "loss", "type": "nominal",
 "scale": {"domain": ["0","1","2","3","4","5","6-9","10/10"], "range": ["#26ff00","#00b8ff","#0059ff","#7e00ff","#ff00ff","#ff5500","#ff0000","#a00000"]},
 "legend": {"orient": "none", "legendX": 40.5, "legendY": 249, "direction": "horizontal", "title": null, "padding": 0,
  "symbolType": "square", "symbolSize": 76, "symbolStrokeColor": "#000000", "symbolStrokeWidth": 1, "symbolOpacity": 1,
  "labelFont": "DejaVu Sans Mono", "labelFontSize": 11.6, "labelColor": "#000000", "labelOffset": 7, "columnPadding": 15}}
}
}
],
"resolve": {"axis": {"y": "independent"}},
"config": {"view": {"fill": "#ffffff", "stroke": null}}
}
